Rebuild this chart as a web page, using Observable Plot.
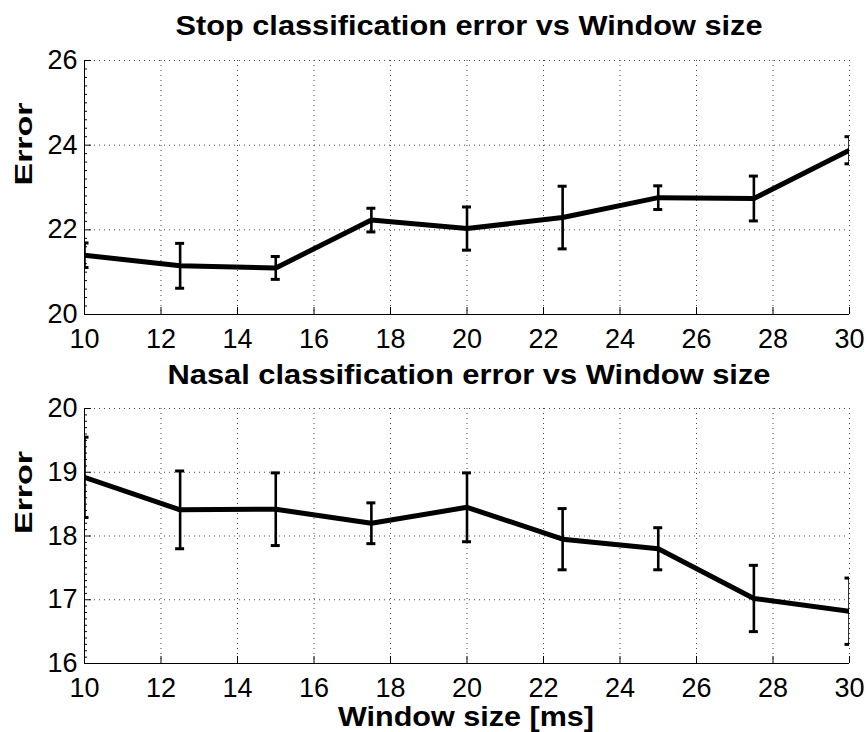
<!DOCTYPE html>
<html>
<head>
<meta charset="utf-8">
<script src="https://cdn.jsdelivr.net/npm/d3@7"></script>
<script src="https://cdn.jsdelivr.net/npm/@observablehq/plot@0.6"></script>
<style>
  body { margin: 0; background: #fff; }
  #chart { width: 867px; height: 732px; background: #fff; }
  #chart svg { display: block; }
</style>
</head>
<body>
<div id="chart"></div>
<script>
// Window sizes (ms) at which both classifiers were evaluated
const windowSizes = [10, 12.5, 15, 17.5, 20, 22.5, 25, 27.5, 30];

// Stop classification: mean error and standard deviation
const stopError = [21.40, 21.15, 21.10, 22.23, 22.03, 22.29, 22.76, 22.74, 23.88];
const stopStd   = [0.29, 0.53, 0.27, 0.28, 0.51, 0.74, 0.28, 0.53, 0.32];

// Nasal classification: mean error and standard deviation
const nasalError = [18.92, 18.41, 18.42, 18.20, 18.45, 17.95, 17.80, 17.02, 16.82];
const nasalStd   = [0.63, 0.61, 0.57, 0.32, 0.54, 0.48, 0.33, 0.52, 0.52];

// Axis ticks
const xTicks = [10, 12, 14, 16, 18, 20, 22, 24, 26, 28, 30];
const stopTicks = [20, 22, 24, 26];
const nasalTicks = [16, 17, 18, 19, 20];

const stopTitle = "Stop classification error vs Window size";
const nasalTitle = "Nasal classification error vs Window size";
const yLabel = "Error";
const xLabel = "Window size [ms]";

const WIDTH = 867;
const ML = 84, MR = 18;
const FONT = "'Liberation Sans', Arial, Helvetica, sans-serif";

// Stretch a few bold labels to their intended length
const fitLengths = new Map([
  [stopTitle, 587],
  [nasalTitle, 603],
  [yLabel, 83],
  [xLabel, 256]
]);

function panel({title, mean, std, yTicks, minorStep, height, marginTop, marginBottom, titleDy, withXLabel}) {
  const rows = windowSizes.map((w, i) => ({x: w, y: mean[i], lo: mean[i] - std[i], hi: mean[i] + std[i]}));
  const yMin = yTicks[0], yMax = yTicks[yTicks.length - 1];
  const minor = d3.range(yMin, yMax + 1e-9, minorStep).filter(v => !yTicks.some(t => Math.abs(t - v) < 1e-6));
  const innerW = WIDTH - ML - MR;
  const innerH = height - marginTop - marginBottom;
  const grid = {stroke: "#444", strokeWidth: 1, strokeDasharray: "1,4"};

  const marks = [
    // dotted grid
    Plot.ruleX(xTicks.slice(1), grid),
    Plot.ruleY(yTicks.slice(1), grid),
    // inward tick marks
    Plot.ruleX(xTicks, {stroke: "#000", insetTop: innerH - 7}),
    Plot.ruleY(yTicks, {stroke: "#000", insetRight: innerW - 7}),
    Plot.ruleY(minor, {stroke: "#000", insetRight: innerW - 3}),
    // left and bottom axis lines
    Plot.ruleX([xTicks[0]], {stroke: "#000"}),
    Plot.ruleY([yMin], {stroke: "#000"}),
    // error bars
    Plot.ruleX(rows, {x: "x", y1: "lo", y2: "hi", stroke: "#000", strokeWidth: 2.6, clip: true}),
    Plot.ruleY(rows, {y: "lo", x1: "x", x2: "x", insetLeft: -4.5, insetRight: -4.5, stroke: "#000", strokeWidth: 3, clip: true}),
    Plot.ruleY(rows, {y: "hi", x1: "x", x2: "x", insetLeft: -4.5, insetRight: -4.5, stroke: "#000", strokeWidth: 3, clip: true}),
    // mean error line
    Plot.line(rows, {x: "x", y: "y", stroke: "#000", strokeWidth: 5, strokeLinejoin: "miter", clip: true}),
    // title
    Plot.text([title], {text: d => d, frameAnchor: "top", lineAnchor: "bottom", dy: titleDy, dx: 2,
      fontSize: 27, fontWeight: "bold", fontFamily: FONT, fill: "#000"}),
    // y label
    Plot.text([yLabel], {text: d => d, frameAnchor: "left", dx: -60, dy: -2, rotate: -90,
      fontSize: 24, fontWeight: "bold", fontFamily: FONT, fill: "#000"})
  ];
  if (withXLabel) {
    marks.push(Plot.text([xLabel], {text: d => d, frameAnchor: "bottom", lineAnchor: "bottom", dy: 62, dx: -1,
      fontSize: 28, fontWeight: "bold", fontFamily: FONT, fill: "#000"}));
  }

  const svg = Plot.plot({
    width: WIDTH,
    height,
    marginLeft: ML,
    marginRight: MR,
    marginTop,
    marginBottom,
    style: {fontFamily: FONT, fontSize: "27px", color: "#000", background: "#fff", overflow: "visible"},
    x: {domain: [10, 30], ticks: xTicks, tickSize: 0, tickPadding: 14, label: null, tickFormat: d => String(d)},
    y: {domain: [yMin, yMax], ticks: yTicks, tickSize: 0, tickPadding: 7, label: null, tickFormat: d => String(d)},
    marks
  });

  d3.select(svg).selectAll("text").each(function () {
    const len = fitLengths.get(this.textContent);
    if (len) {
      this.setAttribute("textLength", len);
      this.setAttribute("lengthAdjust", "spacingAndGlyphs");
    }
  });
  return svg;
}

const chart = document.getElementById("chart");
chart.appendChild(panel({
  title: stopTitle, mean: stopError, std: stopStd, yTicks: stopTicks, minorStep: 0.2,
  height: 358, marginTop: 60, marginBottom: 44, titleDy: -26, withXLabel: false
}));
chart.appendChild(panel({
  title: nasalTitle, mean: nasalError, std: nasalStd, yTicks: nasalTicks, minorStep: 0.1,
  height: 374, marginTop: 50, marginBottom: 69, titleDy: -25, withXLabel: true
}));
</script>
</body>
</html>
